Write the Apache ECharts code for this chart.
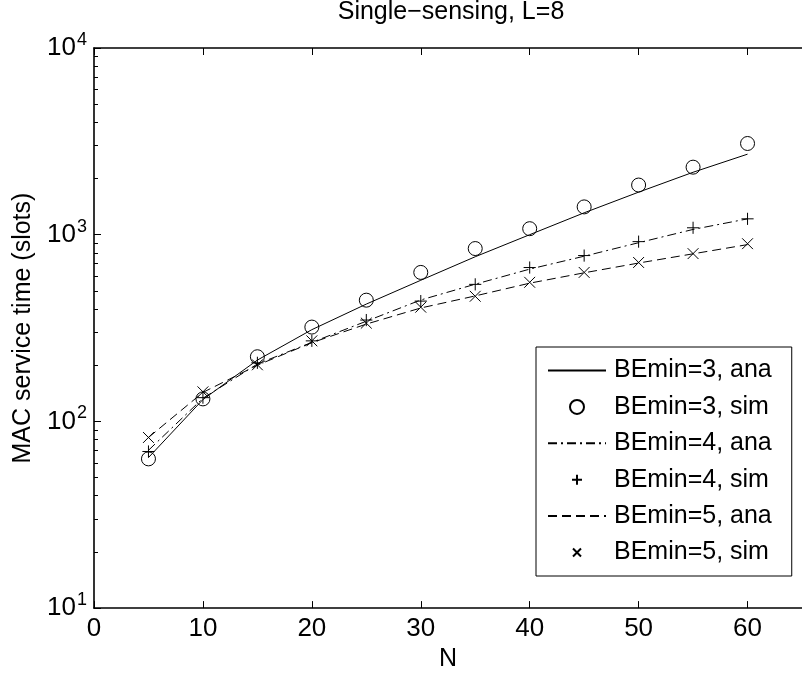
<!DOCTYPE html>
<html>
<head>
<meta charset="utf-8">
<script src="https://cdn.jsdelivr.net/npm/echarts@6/dist/echarts.min.js"></script>
<style>html,body{margin:0;padding:0;background:#fff}#c{width:802px;height:677px}</style>
</head>
<body>
<div id="c"></div>
<script>
// ---- data ----
const nValues = [5, 10, 15, 20, 25, 30, 35, 40, 45, 50, 55, 60];
const ana3 = [64, 131, 213, 310, 425, 570, 762, 1000, 1310, 1690, 2160, 2700];
const sim3 = [63, 132, 222, 320, 446, 628, 843, 1077, 1409, 1845, 2300, 3080];
const ana4 = [70, 133, 203, 265, 344, 447, 543, 654, 767, 906, 1067, 1216];
const sim4 = [69, 134, 206, 270, 349, 441, 542, 667, 773, 918, 1089, 1216];
const ana5 = [82, 143, 200, 264, 332, 405, 470, 550, 625, 705, 790, 885];
const sim5 = [82, 144, 201, 270, 336, 409, 468, 556, 628, 710, 792, 895];
const seriesNames = ['BEmin=3, ana', 'BEmin=3, sim', 'BEmin=4, ana', 'BEmin=4, sim', 'BEmin=5, ana', 'BEmin=5, sim'];
const titleText = 'Single\u2212sensing, L=8';
const xName = 'N';
const yName = 'MAC service time (slots)';

const FONT = 'Liberation Sans, Arial, Helvetica, sans-serif';
const pair = (ys) => nValues.map((n, i) => [n, ys[i]]);

// minor tick values of the log axis (2..9 x 10^k)
const minorTickValues = [];
for (let k = 1; k <= 3; k++) for (let m = 2; m <= 9; m++) minorTickValues.push(m * Math.pow(10, k));

const chart = echarts.init(document.getElementById('c'), null, {renderer: 'canvas'});
const black = '#000';
const lineSeries = (name, ys, type) => ({
  name, type: 'line', data: pair(ys), symbol: 'none', showSymbol: false,
  lineStyle: {color: black, width: 1, type},
  itemStyle: {color: black}, z: 3, animation: false
});
const scatterSeries = (name, ys, symbol, size) => ({
  name, type: 'scatter', data: pair(ys), symbol, symbolSize: size,
  itemStyle: {color: 'rgba(0,0,0,0)', borderColor: black, borderWidth: 1, opacity: 1},
  z: 4, animation: false
});

const PLUS = 'path://M0,0M14,14M7,2L7,12M2,7L12,7';
const CROSS = 'path://M0,0M14,14M3,3L11,11M3,11L11,3';
const hiddenSym = {color: 'rgba(0,0,0,0)', borderColor: 'rgba(0,0,0,0)', borderWidth: 0};

const option = {
  animation: false,
  backgroundColor: '#fff',
  title: {
    text: titleText, left: 451, top: 0, textAlign: 'center', padding: 0,
    textStyle: {fontFamily: FONT, fontSize: 25, fontWeight: 'normal', color: black}
  },
  grid: {left: 94, top: 48, width: 715, height: 564, containLabel: false},
  legend: {
    orient: 'vertical', left: 536, top: 347,
    padding: [11, 20, 11, 11], itemGap: 11.4, itemWidth: 58, itemHeight: 14,
    borderColor: black, borderWidth: 1, backgroundColor: '#fff', borderRadius: 0,
    textStyle: {fontFamily: FONT, fontSize: 25, color: black, padding: [0, 0, 0, 3]},
    data: [
      {name: seriesNames[0], itemStyle: hiddenSym},
      {name: seriesNames[1]},
      {name: seriesNames[2], itemStyle: hiddenSym},
      {name: seriesNames[3]},
      {name: seriesNames[4], itemStyle: hiddenSym},
      {name: seriesNames[5]}
    ],
    selectedMode: false
  },
  xAxis: [{
    type: 'value', min: 0, max: 65, interval: 10, position: 'bottom',
    name: xName, nameLocation: 'middle', nameGap: 36,
    nameTextStyle: {fontFamily: FONT, fontSize: 25, color: black},
    axisLine: {show: true, lineStyle: {color: black, width: 1.6}},
    axisTick: {show: true, inside: true, length: 7, lineStyle: {color: black}},
    axisLabel: {fontFamily: FONT, fontSize: 26, color: black, margin: 8, showMaxLabel: false},
    splitLine: {show: false}
  }, {
    type: 'value', min: 0, max: 65, interval: 10, position: 'top',
    axisLine: {show: true, lineStyle: {color: black, width: 1.6}},
    axisTick: {show: true, inside: true, length: 7, lineStyle: {color: black}},
    axisLabel: {show: false}, splitLine: {show: false}
  }],
  yAxis: [{
    type: 'log', logBase: 10, min: 10, max: 10000,
    name: yName, nameLocation: 'middle', nameGap: 58,
    nameTextStyle: {fontFamily: FONT, fontSize: 25, color: black},
    axisLine: {show: true, lineStyle: {color: black, width: 1.6}},
    axisTick: {show: true, inside: true, length: 7, lineStyle: {color: black, width: 1}},
    axisLabel: {
      margin: 7,
      formatter: (v) => '{b|10}{s|' + Math.round(Math.log10(v)) + '}',
      rich: {
        b: {fontFamily: FONT, fontSize: 26, color: black, lineHeight: 26, verticalAlign: 'bottom'},
        s: {fontFamily: FONT, fontSize: 18, color: black, lineHeight: 18, verticalAlign: 'bottom', padding: [0, 0, 12, 1]}
      }
    },
    splitLine: {show: false}
  }, {
    type: 'log', logBase: 10, min: 10, max: 10000, position: 'left',
    axisLine: {show: false},
    axisTick: {show: true, inside: true, length: 4, lineStyle: {color: black, width: 1}, customValues: minorTickValues},
    axisLabel: {show: false},
    splitLine: {show: false}
  }],
  series: [
    lineSeries(seriesNames[0], ana3, 'solid'),
    scatterSeries(seriesNames[1], sim3, 'circle', 14),
    lineSeries(seriesNames[2], ana4, [9, 4, 2, 4]),
    scatterSeries(seriesNames[3], sim4, PLUS, 17),
    lineSeries(seriesNames[4], ana5, [9, 5]),
    scatterSeries(seriesNames[5], sim5, CROSS, 19)
  ]
};
chart.setOption(option);
</script>
</body>
</html>
